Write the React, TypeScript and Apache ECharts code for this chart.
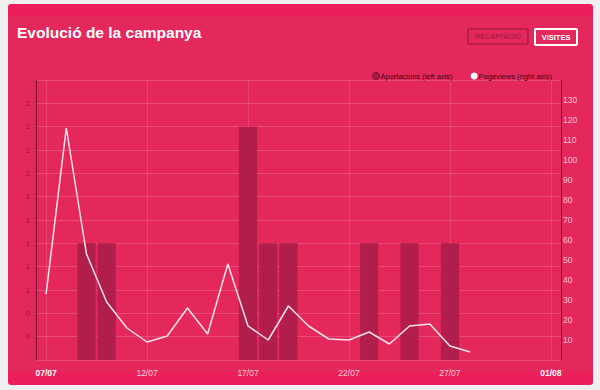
import React, { useEffect, useRef } from "react";
import * as echarts from "echarts";

const categories = [
  "07/07", "08/07", "09/07", "10/07", "11/07", "12/07", "13/07", "14/07", "15/07",
  "16/07", "17/07", "18/07", "19/07", "20/07", "21/07", "22/07", "23/07", "24/07",
  "25/07", "26/07", "27/07", "28/07", "29/07", "30/07", "31/07", "01/08",
];
const aportacions = [
  null, null, 1, 1, null, null, null, null, null, null, 2, 1, 1, null, null, null,
  1, null, 1, null, 1, null, null, null, null, null,
];
const pageviews = [
  33, 116, 53, 29, 16, 9, 12, 26, 13, 48, 17, 10, 27, 17, 10.5, 10, 14, 8, 17, 18,
  7, 4, null, null, null, null,
];
const seriesNames = ["Aportacions (left axis)", "Pageviews (right axis)"];
const titleText = "Evolució de la campanya";
const buttonLabels = ["RECAPTACIÓ", "VISITES"];

const FONT = 'Helvetica, Arial, "Liberation Sans", sans-serif';

export default function App() {
  const ref = useRef<HTMLDivElement>(null);
  useEffect(() => {
    document.body.style.margin = "0";
    const chart = echarts.init(ref.current!, null, { renderer: "svg" });
    const lastIdx = categories.length - 1;
    chart.setOption({
      animation: false,
      backgroundColor: "#efefef",
      textStyle: { fontFamily: FONT },
      graphic: [
        {
          type: "rect",
          z: -10,
          shape: { x: 8, y: 4, width: 585, height: 381, r: 3 },
          style: { fill: "#ec1f5a" },
        },
        {
          type: "rect",
          z: -9,
          shape: { x: 8, y: 16, width: 585, height: 356 },
          style: { fill: "#e5285b" },
        },
        {
          type: "group",
          children: [
            {
              type: "rect",
              shape: { x: 468, y: 29, width: 60, height: 15, r: 1 },
              style: { fill: "none", stroke: "#b01c47", lineWidth: 1.6 },
            },
            {
              type: "text",
              x: 498,
              y: 36.5,
              style: {
                text: buttonLabels[0],
                fill: "#b01c47",
                font: `bold 7px ${FONT}`,
                align: "center",
                verticalAlign: "middle",
              },
            },
            {
              type: "rect",
              shape: { x: 535, y: 29, width: 42, height: 16, r: 1 },
              style: { fill: "none", stroke: "#ffffff", lineWidth: 2 },
            },
            {
              type: "text",
              x: 556,
              y: 37,
              style: {
                text: buttonLabels[1],
                fill: "#ffffff",
                font: `bold 7.5px ${FONT}`,
                align: "center",
                verticalAlign: "middle",
              },
            },
          ],
        },
      ],
      title: {
        text: titleText,
        left: 17,
        top: 24,
        padding: 0,
        textStyle: { color: "#ffffff", fontSize: 15.5, fontWeight: "bold", fontFamily: FONT },
      },
      legend: {
        left: 367,
        top: 67,
        itemWidth: 7,
        itemHeight: 7,
        itemGap: 18,
        icon: "circle",
        textStyle: { color: "#3a0a1a", fontSize: 7.5, fontFamily: FONT, padding: [0, 0, 0, -4] },
        data: [
          { name: seriesNames[0], itemStyle: { color: "#a81c44", borderColor: "#7a1030", borderWidth: 1 } },
          { name: seriesNames[1], itemStyle: { color: "#ffffff" } },
        ],
      },
      grid: { left: 36, right: 39, top: 80, bottom: 30, containLabel: false },
      xAxis: {
        type: "category",
        data: categories,
        boundaryGap: true,
        axisLine: { show: false },
        axisTick: { show: false },
        axisLabel: {
          interval: (i: number) => i % 5 === 0,
          margin: 8,
          fontSize: 8.5,
          color: "rgba(255,255,255,0.78)",
          formatter: (v: string, i: number) =>
            i === 0 || i === lastIdx ? `{b|${v}}` : v,
          rich: { b: { fontWeight: "bold", color: "#ffffff", fontSize: 8.5 } },
        },
        splitLine: {
          show: true,
          interval: (i: number) => i % 5 === 0,
          alignWithLabel: true,
          lineStyle: { color: "rgba(255,255,255,0.12)", width: 1 },
        },
      },
      yAxis: [
        {
          type: "value",
          min: 0,
          max: 2.4,
          interval: 0.2,
          position: "left",
          axisLine: { show: true, lineStyle: { color: "#7a1332", width: 1 } },
          axisTick: { show: false },
          axisLabel: {
            showMinLabel: false,
            showMaxLabel: false,
            fontSize: 8,
            color: "#9c163c",
            margin: 6,
            formatter: (v: number) => String(Math.round(v)),
          },
          splitLine: { show: true, lineStyle: { color: "rgba(255,255,255,0.16)", width: 1 } },
        },
        {
          type: "value",
          min: 0,
          max: 140,
          interval: 10,
          position: "right",
          axisLine: { show: true, lineStyle: { color: "#7a1332", width: 1 } },
          axisTick: { show: false },
          axisLabel: {
            showMinLabel: false,
            showMaxLabel: false,
            fontSize: 8.5,
            color: "rgba(255,255,255,0.72)",
            margin: 2,
          },
          splitLine: { show: false },
        },
      ],
      series: [
        {
          name: seriesNames[0],
          type: "bar",
          yAxisIndex: 0,
          data: aportacions,
          barCategoryGap: "10%",
          itemStyle: { color: "#b21e4b" },
        },
        {
          name: seriesNames[1],
          type: "line",
          yAxisIndex: 1,
          data: pageviews,
          showSymbol: false,
          symbol: "none",
          lineStyle: { color: "#fde3ea", width: 1.5 },
          itemStyle: { color: "#ffffff" },
        },
      ],
    });
    return () => chart.dispose();
  }, []);
  return <div ref={ref} style={{ width: 600, height: 390 }} />;
}
